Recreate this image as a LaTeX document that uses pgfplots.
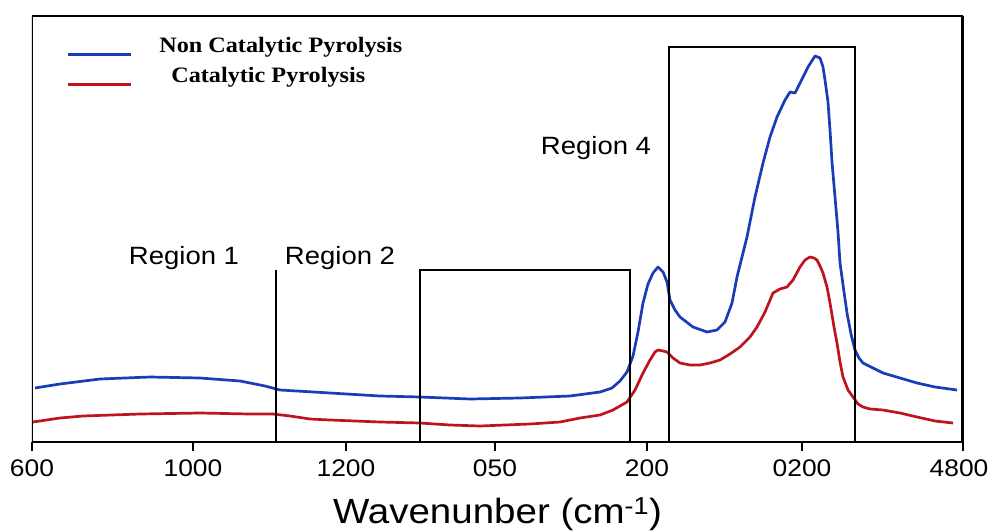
\documentclass[border=0pt]{standalone}
\usepackage{pgfplots}
\pgfplotsset{compat=1.18}
\usepackage{fontspec}
\setmainfont{Liberation Sans}[FakeStretch=1.1]
\newfontfamily\legserif{Liberation Serif}[FakeStretch=1.1]
\definecolor{ncblue}{RGB}{25,60,185}
\definecolor{cred}{RGB}{190,20,30}
\newcommand{\tickfont}{\fontsize{24}{28}\selectfont}
\newcommand{\regfont}{\fontsize{25}{30}\selectfont}
\newcommand{\labfont}{\fontsize{35}{40}\selectfont}
\newcommand{\legfont}{\legserif\bfseries\fontsize{22}{26}\selectfont}
\begin{document}
\begin{tikzpicture}
\useasboundingbox (-32pt,-89pt) rectangle (958pt,442pt);
\begin{axis}[
  at={(0pt,0pt)}, anchor=south west,
  scale only axis, width=931pt, height=426pt,
  xmin=32, xmax=963, ymin=0, ymax=426,
  ytick=\empty,
  xtick={32,193,346,495,647,802,963},
  xticklabels={600,1000,1200,050,200,0200,\hspace*{-8pt}4800},
  xtick pos=bottom, tick align=outside,
  major tick length=9pt,
  xtick style={line width=1.2pt, black},
  xticklabel style={font=\tickfont, yshift=-5pt},
  xlabel={Wavenunber (cm\textsuperscript{-1})},
  xlabel style={font=\labfont, yshift=-14pt},
  legend style={draw=none, fill=none, at={(0.037,0.955)}, anchor=north west,
    font=\legfont, row sep=9pt, inner sep=0pt},
  legend cell align=left,
  legend image code/.code={\draw[#1] (0pt,-9pt) -- (63pt,-9pt); \path (88pt,0pt);},
]
\addplot[ncblue, line width=2.7pt, line join=round] coordinates {
(35,54) (60,58) (100,63) (150,65) (200,64) (240,61) (265,56) (280,52)
(330,49) (380,46) (420,45) (470,43) (520,44) (570,46) (600,50) (612,54)
(620,61) (627,70) (633,86) (638,110) (643,139) (648,158) (653,169) (658,175)
(663,170) (667,160) (670,142) (675,132) (680,125) (693,115) (707,110) (717,112)
(725,120) (732,139) (737,165) (742,185) (747,205) (751,225) (755,245) (759,262)
(763,279) (770,305) (777,325) (785,342) (790,350) (795,349) (800,359) (808,375)
(815,386) (820,384) (823,375) (825,362) (828,340) (830,312) (832,280) (835,245)
(838,210) (840,179) (844,150) (847,129) (851,108) (855,92) (859,84) (863,79)
(873,74) (883,69) (900,64) (917,59) (935,55) (957,52)
};
\addlegendentry{Non Catalytic Pyrolysis}
\addplot[cred, line width=2.7pt, line join=round] coordinates {
(33,20) (60,24) (83,26) (140,28) (200,29) (250,28) (273,28) (290,26)
(310,23) (330,22) (380,20) (420,19) (450,17) (480,16) (530,18) (560,20)
(580,24) (600,27) (613,32) (627,40) (635,52) (643,69) (650,82) (655,90)
(658,92) (663,91) (667,90) (673,84) (680,79) (690,77) (700,77) (710,79)
(720,82) (730,88) (740,95) (750,105) (757,115) (765,130) (773,149) (780,153)
(787,155) (793,162) (800,175) (805,182) (810,185) (814,184) (817,182) (820,176)
(823,169) (827,155) (830,139) (834,115) (837,99) (840,80) (843,65) (848,52)
(853,45) (858,38) (863,35) (870,33) (883,32) (900,29) (917,25) (935,21) (953,19)
};
\addlegendentry{\hspace*{12pt}Catalytic Pyrolysis}
\draw[line width=1.6pt] (axis cs:276,0) -- (axis cs:276,172);
\draw[line width=1.6pt] (axis cs:420,0) |- (axis cs:630,172) -- (axis cs:630,0);
\draw[line width=1.6pt] (axis cs:669,0) |- (axis cs:855,395) -- (axis cs:855,0);
\draw[line width=2.2pt] (rel axis cs:0,1) -- (rel axis cs:1,1);
\draw[line width=2.8pt] (rel axis cs:0,1) -- (rel axis cs:0,0) -- (rel axis cs:1,0);
\draw[line width=4pt] (rel axis cs:1,0) -- (rel axis cs:1,1);
\node[font=\regfont] at (axis cs:184,184) {Region 1};
\node[font=\regfont] at (axis cs:340,184) {Region 2};
\node[font=\regfont] at (axis cs:596,294) {Region 4};
\end{axis}
\end{tikzpicture}
\end{document}
